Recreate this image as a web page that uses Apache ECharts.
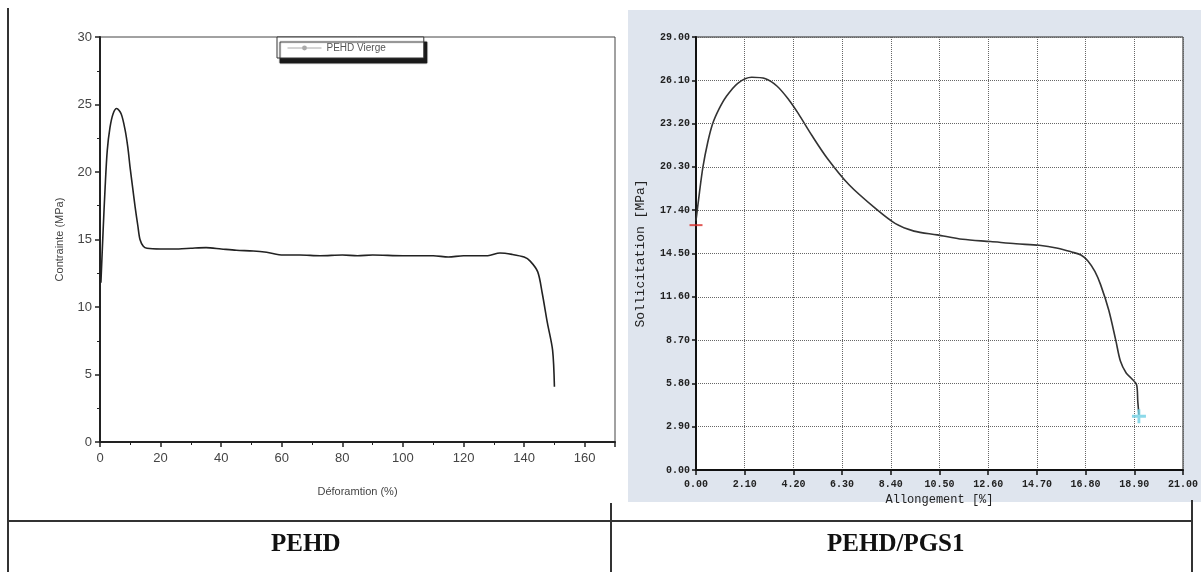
<!DOCTYPE html>
<html>
<head>
<meta charset="utf-8">
<script src="https://cdn.jsdelivr.net/npm/echarts@6/dist/echarts.min.js"></script>
<style>
  html, body { margin: 0; padding: 0; background: #fff; }
  #chart { width: 1201px; height: 572px; }
</style>
</head>
<body>
<div id="chart"></div>
<script>
  // PEHD (left) : strain % vs stress MPa
  const pehdStrain = [0.3, 1.0, 1.7, 2.4, 3.3, 4.3, 5.5, 7.0, 8.3, 9.2, 9.9, 10.8, 11.6, 12.5, 13.2, 14.3, 15.5,
    20, 26, 30, 35, 40, 45, 50.6, 55, 60.5, 66, 72.7, 80, 85, 90, 100, 110, 115, 120, 128, 132, 136, 140,
    142, 144.5, 146, 147.7, 149.4, 150];
  const pehdStress = [11.8, 15.5, 18.9, 21.6, 23.3, 24.3, 24.7, 24.3, 23.1, 21.8, 20.4, 18.8, 17.4, 16.0, 15.0, 14.5, 14.35,
    14.3, 14.3, 14.35, 14.4, 14.3, 14.2, 14.15, 14.05, 13.85, 13.85, 13.8, 13.85, 13.8, 13.85, 13.8, 13.8, 13.7, 13.8, 13.8, 14.0, 13.9, 13.7,
    13.4, 12.6, 11.0, 8.8, 6.8, 4.1];

  // PEHD/PGS1 (right) : elongation % vs stress MPa
  const pgsStrain = [0.0, 0.15, 0.3, 0.5, 0.72, 1.0, 1.3, 1.8, 2.4, 3.0, 3.5, 4.0, 4.4, 5.0, 5.65, 6.6, 7.75, 8.6, 9.4,
    10.4, 11.5, 12.7, 13.8, 14.8, 15.6, 16.2, 16.6, 16.9, 17.2, 17.45, 17.8, 18.1, 18.3, 18.55, 18.8, 19.0, 19.05, 19.1];
  const pgsStress = [16.7, 18.6, 20.3, 21.9, 23.2, 24.2, 25.0, 25.9, 26.3, 26.2, 25.7, 24.8, 23.9, 22.4, 20.9, 19.1, 17.5, 16.5, 16.0,
    15.75, 15.45, 15.3, 15.15, 15.05, 14.85, 14.6, 14.4, 14.0, 13.3, 12.4, 10.7, 8.7, 7.3, 6.5, 6.1, 5.7, 4.6, 3.7];

  // markers at start / break of the PGS1 test
  const startMark = [0.0, 16.4];
  const breakMark = [19.1, 3.6];

  const leftXTicks = { min: 0, max: 170, interval: 20 };
  const leftYTicks = { min: 0, max: 30, interval: 5 };
  const rightXTicks = { min: 0, max: 21, interval: 2.1 };
  const rightYTicks = { min: 0, max: 29, interval: 2.9 };

  const zip = (xs, ys) => xs.map((x, i) => [x, ys[i]]);

  const arialText = { fontFamily: 'Liberation Sans', color: '#333' };
  const monoText = { fontFamily: 'Liberation Mono', fontWeight: 'bold', fontSize: 10, color: '#222' };

  const chart = echarts.init(document.getElementById('chart'));

  const option = {
    animation: false,
    backgroundColor: '#fff',
    graphic: [
      { type: 'rect', shape: { x: 628, y: 10, width: 573, height: 492 }, style: { fill: '#dfe5ee' }, z: -10 },
      { type: 'line', shape: { x1: 8, y1: 8, x2: 8, y2: 572 }, style: { stroke: '#333', lineWidth: 2 } },
      { type: 'line', shape: { x1: 8, y1: 521, x2: 1192, y2: 521 }, style: { stroke: '#333', lineWidth: 2 } },
      { type: 'line', shape: { x1: 611, y1: 503, x2: 611, y2: 572 }, style: { stroke: '#333', lineWidth: 2 } },
      { type: 'line', shape: { x1: 1192, y1: 500, x2: 1192, y2: 572 }, style: { stroke: '#333', lineWidth: 2 } },
      { type: 'text', left: 305 - 34, top: 532, style: { text: 'PEHD', font: 'bold 25px "Liberation Serif"', fill: '#111' } },
      { type: 'text', left: 897 - 70, top: 532, style: { text: 'PEHD/PGS1', font: 'bold 25px "Liberation Serif"', fill: '#111' } }
    ],
    legend: {
      data: ['PEHD Vierge'],
      left: 277,
      top: 37,
      padding: [6, 38, 5, 10],
      itemWidth: 34,
      itemHeight: 6,
      backgroundColor: '#fff',
      borderColor: '#333',
      borderWidth: 1,
      shadowColor: '#1a1a1a',
      shadowBlur: 1,
      shadowOffsetX: 3,
      shadowOffsetY: 5,
      lineStyle: { color: '#aaa', width: 1 },
      itemStyle: { color: '#aaa' },
      textStyle: Object.assign({}, arialText, { fontSize: 10, color: '#555' })
    },
    grid: [
      { left: 100, top: 37, width: 515, height: 405, show: true, borderColor: '#444', borderWidth: 1, backgroundColor: '#fff' },
      { left: 696, top: 37, width: 497, height: 433, show: true, borderColor: '#222', borderWidth: 1, backgroundColor: '#fff' }
    ],
    xAxis: [
      {
        gridIndex: 0, type: 'value',
        min: leftXTicks.min, max: leftXTicks.max, interval: leftXTicks.interval,
        name: 'Déforamtion (%)', nameLocation: 'middle', nameGap: 44,
        nameTextStyle: Object.assign({}, arialText, { fontSize: 11, color: '#444' }),
        axisLine: { lineStyle: { color: '#222', width: 2 } },
        axisTick: { length: 5, lineStyle: { color: '#222', width: 1.5 } },
        minorTick: { show: true, splitNumber: 2, length: 3, lineStyle: { color: '#222' } },
        axisLabel: Object.assign({}, arialText, { fontSize: 13, margin: 10, showMaxLabel: false, color: '#444' }),
        splitLine: { show: false }
      },
      {
        gridIndex: 1, type: 'value',
        min: rightXTicks.min, max: rightXTicks.max, interval: rightXTicks.interval,
        name: 'Allongement [%]', nameLocation: 'middle', nameGap: 20,
        nameTextStyle: Object.assign({}, monoText, { fontSize: 12, fontWeight: 'normal' }),
        axisLine: { lineStyle: { color: '#111', width: 2 } },
        axisTick: { length: 5, lineStyle: { color: '#111', width: 1.5 } },
        axisLabel: Object.assign({}, monoText, { margin: 9, formatter: v => v.toFixed(2) }),
        splitLine: { show: true, lineStyle: { type: 'dotted', color: '#666', width: 1 } }
      }
    ],
    yAxis: [
      {
        gridIndex: 0, type: 'value',
        min: leftYTicks.min, max: leftYTicks.max, interval: leftYTicks.interval,
        name: 'Contrainte (MPa)', nameLocation: 'middle', nameGap: 35,
        nameTextStyle: Object.assign({}, arialText, { fontSize: 11, color: '#444' }),
        axisLine: { lineStyle: { color: '#222', width: 2 } },
        axisTick: { length: 5, lineStyle: { color: '#222', width: 1.5 } },
        minorTick: { show: true, splitNumber: 2, length: 3, lineStyle: { color: '#222' } },
        axisLabel: Object.assign({}, arialText, { fontSize: 13, margin: 8, color: '#444' }),
        splitLine: { show: false }
      },
      {
        gridIndex: 1, type: 'value',
        min: rightYTicks.min, max: rightYTicks.max, interval: rightYTicks.interval,
        name: 'Sollicitation [MPa]', nameLocation: 'middle', nameGap: 49,
        nameTextStyle: Object.assign({}, monoText, { fontSize: 13, fontWeight: 'normal' }),
        axisLine: { lineStyle: { color: '#111', width: 2 } },
        axisTick: { length: 4, lineStyle: { color: '#111', width: 1.5 } },
        axisLabel: Object.assign({}, monoText, { margin: 6, formatter: v => v.toFixed(2) }),
        splitLine: { show: true, lineStyle: { type: 'dotted', color: '#666', width: 1 } }
      }
    ],
    series: [
      {
        name: 'PEHD Vierge', type: 'line', xAxisIndex: 0, yAxisIndex: 0,
        data: zip(pehdStrain, pehdStress),
        smooth: 0.3, symbol: 'none',
        lineStyle: { color: '#222', width: 1.6 },
        itemStyle: { color: '#999' }
      },
      {
        name: 'PEHD/PGS1', type: 'line', xAxisIndex: 1, yAxisIndex: 1,
        data: zip(pgsStrain, pgsStress),
        smooth: 0.3, symbol: 'none',
        lineStyle: { color: '#333', width: 1.6 }
      },
      {
        name: 'start', type: 'scatter', xAxisIndex: 1, yAxisIndex: 1,
        data: [startMark], symbol: 'rect', symbolSize: [13, 2],
        itemStyle: { color: '#d9302c' }, z: 5
      },
      {
        name: 'break', type: 'scatter', xAxisIndex: 1, yAxisIndex: 1,
        data: [breakMark], symbol: 'path://M0,4h10v2h-10z M4,0h2v10h-2z', symbolSize: 14,
        itemStyle: { color: '#6fcfe3' }, z: 5
      }
    ]
  };

  chart.setOption(option);
</script>
</body>
</html>
